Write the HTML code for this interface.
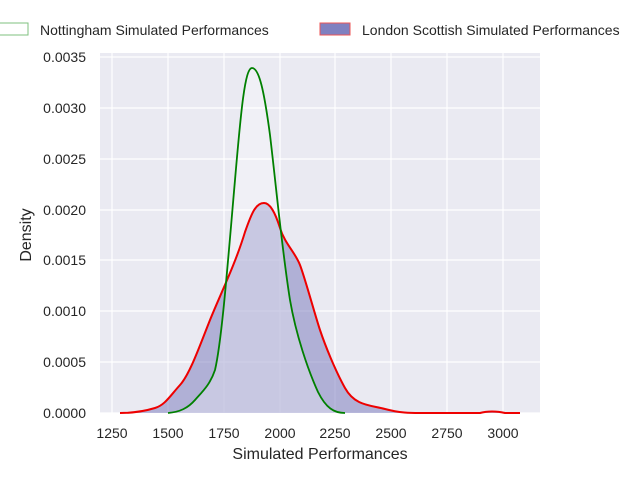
<!DOCTYPE html>
<html><head><meta charset="utf-8"><style>
body{margin:0;background:#fff;}
svg{display:block;font-family:"Liberation Sans",Arial,sans-serif;}
</style></head><body>
<svg width="640" height="480" viewBox="0 0 640 480">
<rect x="100" y="53" width="440" height="360" fill="#EAEAF2"/>
<g stroke="#fff" stroke-width="1.2">
<line x1="112" y1="53" x2="112" y2="413"/><line x1="168" y1="53" x2="168" y2="413"/>
<line x1="224" y1="53" x2="224" y2="413"/><line x1="280" y1="53" x2="280" y2="413"/>
<line x1="335" y1="53" x2="335" y2="413"/><line x1="391" y1="53" x2="391" y2="413"/>
<line x1="447" y1="53" x2="447" y2="413"/><line x1="503" y1="53" x2="503" y2="413"/>
<line x1="100" y1="57" x2="540" y2="57"/><line x1="100" y1="108" x2="540" y2="108"/>
<line x1="100" y1="159" x2="540" y2="159"/><line x1="100" y1="210" x2="540" y2="210"/>
<line x1="100" y1="260" x2="540" y2="260"/><line x1="100" y1="311" x2="540" y2="311"/>
<line x1="100" y1="362" x2="540" y2="362"/><line x1="100" y1="413" x2="540" y2="413"/>
</g>
<path d="M120,413 C135,413 145,411 155,408 S170,396 180,385 S200,345 210,320 S235,265 245,232 C252,212 256,203 264,203 C270,203 275,212 280,228 S295,252 300,265 S315,315 320,330 S335,370 345,388 S370,405 385,409 S410,413 420,413 L480,413 C487,411 497,411 505,413 L520,413 Z" fill="#8080C0" fill-opacity="0.55"/>
<path id="g" d="M168,413 C180,412 188,408 195,400 S210,385 215,370 C222,340 228,260 235,180 C241,110 245,68 252,68 C259,68 264,90 270,135 C276,185 282,250 290,300 C296,335 308,370 318,392 C326,408 334,413 345,413 Z" fill="#fff" fill-opacity="0.3"/>
<path d="M120,413 C135,413 145,411 155,408 S170,396 180,385 S200,345 210,320 S235,265 245,232 C252,212 256,203 264,203 C270,203 275,212 280,228 S295,252 300,265 S315,315 320,330 S335,370 345,388 S370,405 385,409 S410,413 420,413 L480,413 C487,411 497,411 505,413 L520,413" fill="none" stroke="#EE0000" stroke-width="2"/>
<path d="M168,413 C180,412 188,408 195,400 S210,385 215,370 C222,340 228,260 235,180 C241,110 245,68 252,68 C259,68 264,90 270,135 C276,185 282,250 290,300 C296,335 308,370 318,392 C326,408 334,413 345,413" fill="none" stroke="#008000" stroke-width="1.8"/>
<g font-size="14" fill="#262626" text-anchor="end">
<text x="86" y="62">0.0035</text><text x="86" y="113">0.0030</text>
<text x="86" y="164">0.0025</text><text x="86" y="215">0.0020</text>
<text x="86" y="265">0.0015</text><text x="86" y="316">0.0010</text>
<text x="86" y="367">0.0005</text><text x="86" y="418">0.0000</text>
</g>
<g font-size="14" fill="#262626" text-anchor="middle">
<text x="112" y="438">1250</text><text x="168" y="438">1500</text>
<text x="224" y="438">1750</text><text x="280" y="438">2000</text>
<text x="335" y="438">2250</text><text x="391" y="438">2500</text>
<text x="447" y="438">2750</text><text x="503" y="438">3000</text>
<text x="320" y="459" font-size="16">Simulated Performances</text>
<text transform="translate(31,235) rotate(-90)" font-size="16">Density</text>
</g>
<rect x="-2" y="23" width="30" height="12" fill="#fff" stroke="#7FC07F" stroke-width="1"/>
<text x="40" y="35" font-size="14" fill="#262626">Nottingham Simulated Performances</text>
<rect x="320" y="23" width="30" height="12" fill="#8080C0" stroke="#EE5555" stroke-width="1"/>
<text x="362" y="35" font-size="14" fill="#262626">London Scottish Simulated Performances</text>
</svg>
</body></html>
